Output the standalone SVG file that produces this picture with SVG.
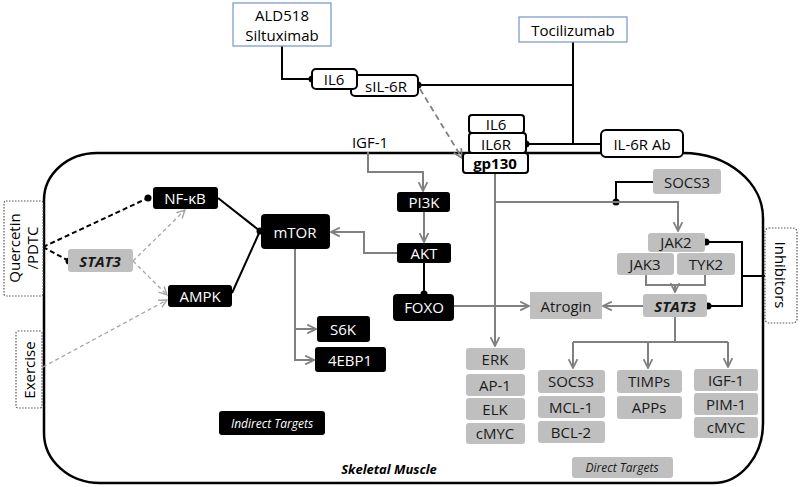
<svg xmlns="http://www.w3.org/2000/svg" width="800" height="487" viewBox="0 0 800 487">
<defs>
<marker id="arr" markerUnits="userSpaceOnUse" viewBox="0 0 10 10" refX="9" refY="5" markerWidth="11" markerHeight="11" orient="auto">
<path d="M1,1 L9,5 L1,9" fill="none" stroke="#808080" stroke-width="1.6"/>
</marker>
<marker id="arrL" markerUnits="userSpaceOnUse" viewBox="0 0 10 10" refX="9" refY="5" markerWidth="10" markerHeight="10" orient="auto">
<path d="M1,1 L9,5 L1,9" fill="none" stroke="#a6a6a6" stroke-width="1.4"/>
</marker>
</defs>
<style>
text{font-family:"Open Sans",Lato,"Liberation Sans",sans-serif;font-size:15px;text-anchor:middle;dominant-baseline:central}
.blue{fill:#fff;stroke:#7f9fcf;stroke-width:1.3}
.rec{fill:#fff;stroke:#000;stroke-width:2}
.blk{fill:#000}
.blk + text{fill:#fff}
.gry{fill:#bfbfbf}
.gry + text{fill:#1a1a1a}
.dot{fill:#fff;stroke:#555;stroke-width:1.2;stroke-dasharray:1.5 1.5}
.k{fill:none;stroke:#000;stroke-width:2}
.kd{fill:none;stroke:#000;stroke-width:2;stroke-dasharray:5 3}
.g{fill:none;stroke:#808080;stroke-width:2}
.gd{fill:none;stroke:#808080;stroke-width:1.8;stroke-dasharray:6 4}
.ld{fill:none;stroke:#a6a6a6;stroke-width:1.3;stroke-dasharray:4 3}
.bi{font-weight:bold;font-style:italic}
</style>
<path id="cell" d="M97,153 H683 A80 65 0 0 1 763,218 V423 A50 60 0 0 1 713,483 H100 A56 50 0 0 1 44,433 V200 A53 47 0 0 1 97,153 Z" fill="#fff" stroke="#000" stroke-width="2.5"/>
<text x="389" y="469" class="bi" style="font-size:13px">Skeletal Muscle</text>
<text x="370" y="142">IGF-1</text>
<g id="connectors">
<path class="k" d="M282,46 V79 H310"/>
<circle cx="312" cy="79" r="3.5"/>
<path class="k" d="M418,85 H573"/>
<circle cx="418" cy="85" r="3.5"/>
<path class="k" d="M573,42 V144"/>
<path class="k" d="M526,144 H601"/>
<circle cx="526" cy="144" r="3.5"/>
<path class="k" d="M653,182 H616 V202"/>
<circle cx="616" cy="202" r="3.5"/>
<path class="k" d="M705,242 H742 V306 H708 M742,276 H765"/>
<circle cx="706" cy="242" r="3.5"/>
<circle cx="708" cy="306" r="3.5"/>
<path class="k" d="M218,198 L260,231 M232,293 L260,231"/>
<circle cx="260" cy="231" r="3.5"/>
<path class="k" d="M424,263 V293"/>
<circle cx="424" cy="294" r="3.5"/>
<path class="kd" d="M43,247 L148,198 M43,247 L69,261"/>
<circle cx="148" cy="198" r="3.5"/>
<circle cx="69" cy="261" r="3.5"/>
<path class="g" d="M368,152 V172 H423 V191" marker-end="url(#arr)"/>
<path class="g" d="M424,212 V242" marker-end="url(#arr)"/>
<path class="g" d="M397,253 H364 V232 H331" marker-end="url(#arr)"/>
<path class="g" d="M295,249 V360 H314" marker-end="url(#arr)"/>
<path class="g" d="M295,329 H316" marker-end="url(#arr)"/>
<path class="g" d="M495,173 V346" marker-end="url(#arr)"/>
<path class="g" d="M495,202 H678 V231" marker-end="url(#arr)"/>
<path class="g" d="M646,275 V285 H705 V275"/>
<path class="g" d="M675,285 V292" marker-end="url(#arr)"/>
<path class="g" d="M643,306 H603" marker-end="url(#arr)"/>
<path class="g" d="M454,306 H529" marker-end="url(#arr)"/>
<path class="g" d="M675,317 V342 M573,342 H728"/>
<path class="g" d="M573,342 V368" marker-end="url(#arr)"/>
<path class="g" d="M648,342 V368" marker-end="url(#arr)"/>
<path class="g" d="M728,342 V367" marker-end="url(#arr)"/>
<path class="gd" d="M420,89 L462,158" marker-end="url(#arr)"/>
<path class="ld" d="M133,261 L185,210" marker-end="url(#arrL)"/>
<path class="ld" d="M133,261 L167,295" marker-end="url(#arrL)"/>
<path class="ld" d="M43,367 L167,300" marker-end="url(#arrL)"/>
</g>
<g id="ald518"><rect class="blue" x="233" y="3" width="98" height="43"/><text x="282" y="15">ALD518</text><text x="282" y="35">Siltuximab</text></g>
<g id="tocilizumab"><rect class="blue" x="519" y="17" width="108" height="25"/><text x="573" y="30">Tocilizumab</text></g>
<g id="sil6r"><rect class="rec" x="351" y="75" width="67" height="21" rx="4"/><text x="386" y="86">sIL-6R</text></g>
<g id="il6-free"><rect class="rec" x="312" y="69" width="45" height="20" rx="4"/><text x="334" y="79">IL6</text></g>
<g id="il6"><rect class="rec" x="469" y="115" width="55" height="18" rx="3"/><text x="496" y="124">IL6</text></g>
<g id="il6r"><rect class="rec" x="469" y="133" width="57" height="20" rx="3"/><text x="496" y="144">IL6R</text></g>
<g id="gp130"><rect class="rec" x="463" y="153" width="65" height="20" rx="3"/><text x="495" y="163" style="font-weight:bold">gp130</text></g>
<g id="il6rab"><rect class="rec" x="601" y="130" width="82" height="27" rx="5"/><text x="642" y="144">IL-6R Ab</text></g>
<g id="quercetin"><rect class="dot" x="4" y="201" width="39" height="95" rx="2"/><text transform="translate(23,248) rotate(-90)"><tspan x="0" y="-9">Quercetin</tspan><tspan x="0" y="9">/PDTC</tspan></text></g>
<g id="exercise"><rect class="dot" x="16" y="331" width="26" height="77" rx="2"/><text transform="translate(29,370) rotate(-90)">Exercise</text></g>
<g id="inhibitors"><rect class="dot" x="765" y="228" width="32" height="95" rx="4"/><text transform="translate(781,275) rotate(90)">Inhibitors</text></g>
<g id="stat3-left"><rect class="gry" x="68" y="249" width="65" height="23" rx="3"/><text x="100" y="261" class="bi">STAT3</text></g>
<g id="nfkb"><rect class="blk" x="153" y="187" width="65" height="22" rx="3"/><text x="185" y="198">NF-κB</text></g>
<g id="ampk"><rect class="blk" x="168" y="285" width="64" height="22" rx="3"/><text x="200" y="296">AMPK</text></g>
<g id="mtor"><rect class="blk" x="261" y="214" width="69" height="35" rx="4"/><text x="295" y="232">mTOR</text></g>
<g id="pi3k"><rect class="blk" x="397" y="192" width="53" height="20" rx="3"/><text x="424" y="202">PI3K</text></g>
<g id="akt"><rect class="blk" x="397" y="243" width="54" height="20" rx="3"/><text x="424" y="253">AKT</text></g>
<g id="foxo"><rect class="blk" x="393" y="294" width="61" height="27" rx="4"/><text x="424" y="307">FOXO</text></g>
<g id="s6k"><rect class="blk" x="317" y="316" width="53" height="26" rx="3"/><text x="343" y="329">S6K</text></g>
<g id="4ebp1"><rect class="blk" x="315" y="347" width="71" height="25" rx="3"/><text x="350" y="360">4EBP1</text></g>
<g id="indirect"><rect class="blk" x="219" y="411" width="106" height="24" rx="3"/><text x="272" y="423" style="font-style:italic;font-size:12px">Indirect Targets</text></g>
<g id="socs3-top"><rect class="gry" x="653" y="169" width="68" height="25" rx="3"/><text x="687" y="182">SOCS3</text></g>
<g id="jak2"><rect class="gry" x="648" y="233" width="57" height="19" rx="3"/><text x="676" y="242">JAK2</text></g>
<g id="jak3"><rect class="gry" x="617" y="253" width="57" height="22" rx="3"/><text x="645" y="264">JAK3</text></g>
<g id="tyk2"><rect class="gry" x="677" y="253" width="58" height="22" rx="3"/><text x="706" y="264">TYK2</text></g>
<g id="stat3"><rect class="gry" x="643" y="294" width="64" height="23" rx="3"/><text x="675" y="306" class="bi">STAT3</text></g>
<g id="atrogin"><rect class="gry" x="530" y="292" width="72" height="27" rx="1"/><text x="566" y="306">Atrogin</text></g>
<g id="erk"><rect class="gry" x="466" y="348" width="59" height="22" rx="3"/><text x="495" y="359">ERK</text></g>
<g id="ap1"><rect class="gry" x="466" y="374" width="59" height="22" rx="3"/><text x="495" y="385">AP-1</text></g>
<g id="elk"><rect class="gry" x="466" y="398" width="59" height="22" rx="3"/><text x="495" y="409">ELK</text></g>
<g id="cmyc1"><rect class="gry" x="466" y="423" width="59" height="21" rx="3"/><text x="495" y="433">cMYC</text></g>
<g id="socs3"><rect class="gry" x="538" y="370" width="67" height="23" rx="3"/><text x="571" y="381">SOCS3</text></g>
<g id="mcl1"><rect class="gry" x="538" y="396" width="67" height="22" rx="3"/><text x="571" y="407">MCL-1</text></g>
<g id="bcl2"><rect class="gry" x="538" y="421" width="67" height="22" rx="3"/><text x="571" y="432">BCL-2</text></g>
<g id="timps"><rect class="gry" x="617" y="370" width="65" height="23" rx="3"/><text x="649" y="381">TIMPs</text></g>
<g id="apps"><rect class="gry" x="617" y="396" width="65" height="23" rx="3"/><text x="649" y="407">APPs</text></g>
<g id="igf1"><rect class="gry" x="694" y="369" width="64" height="22" rx="3"/><text x="726" y="380">IGF-1</text></g>
<g id="pim1"><rect class="gry" x="694" y="393" width="64" height="22" rx="3"/><text x="726" y="404">PIM-1</text></g>
<g id="cmyc2"><rect class="gry" x="694" y="417" width="64" height="21" rx="3"/><text x="726" y="427">cMYC</text></g>
<g id="direct"><rect class="gry" x="572" y="457" width="101" height="21" rx="3"/><text x="622" y="467" style="font-style:italic;font-size:12px">Direct Targets</text></g>
</svg>
